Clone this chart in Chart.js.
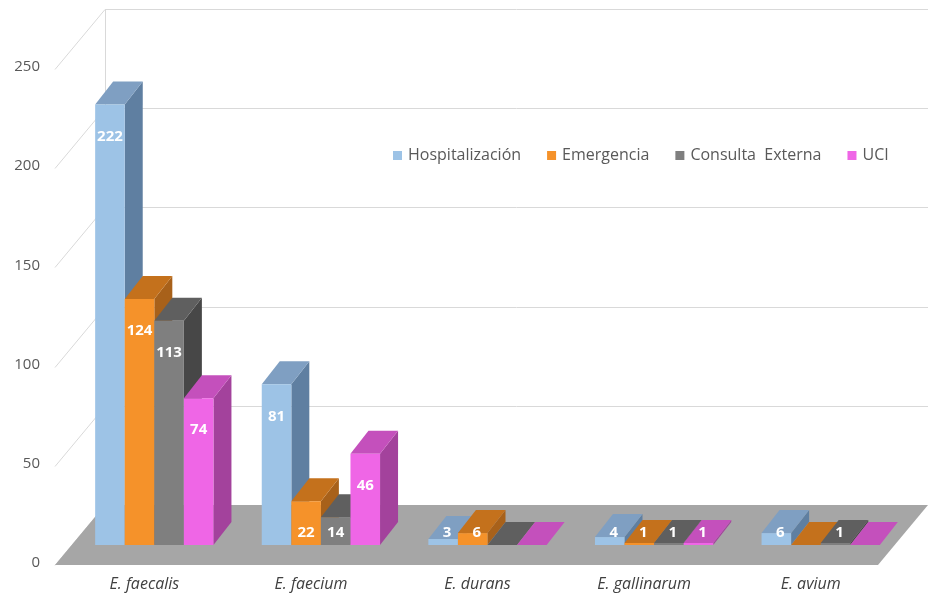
<!DOCTYPE html>
<html>
<head>
<meta charset="utf-8">
<script src="https://cdn.jsdelivr.net/npm/chart.js@4.4.0/dist/chart.umd.min.js"></script>
<style>
  html, body { margin: 0; padding: 0; background: #fff; }
  #wrap { width: 928px; height: 600px; }
</style>
</head>
<body>
<div id="wrap"><canvas id="chart"></canvas></div>
<script>
// data
var species = ['E. faecalis', 'E. faecium', 'E. durans', 'E. gallinarum', 'E. avium'];
var hospitalizacion = [222, 81, 3, 4, 6];
var emergencia = [124, 22, 6, 1, 0];
var consultaExterna = [113, 14, 0, 1, 1];
var uci = [74, 46, 0, 1, 0];
var yTicks = [0, 50, 100, 150, 200, 250];

// front / top / side colours for the 3d bars
var faces = [
    { front: '#9dc3e6', top: '#7f9fc2', side: '#5f7fa1' },
    { front: '#f5922a', top: '#c4711c', side: '#a8611a' },
    { front: '#7f7f7f', top: '#5f5f5f', side: '#474747' },
    { front: '#ef66e6', top: '#c450bc', side: '#a3429c' }
];

var DX = 18, DY = -23;   // bar depth
var font = '"Open Sans", Lato, sans-serif';

function poly(ctx, pts, color) {
    ctx.beginPath();
    ctx.moveTo(pts[0][0], pts[0][1]);
    for (var i = 1; i < pts.length; i++) ctx.lineTo(pts[i][0], pts[i][1]);
    ctx.closePath();
    ctx.fillStyle = color;
    ctx.fill();
}

var threeD = {
    id: 'threeD',
    beforeDatasetsDraw: function (chart) {
        var ctx = chart.ctx;
        var area = chart.chartArea;
        var y = chart.scales.y;
        var base = y.getPixelForValue(0);

        ctx.save();
        // back wall + left wall grid
        ctx.strokeStyle = '#d9d9d9';
        ctx.lineWidth = 1;
        var wallX = area.left + 34;
        var frontX = area.left - 16;
        yTicks.forEach(function (v) {
            var p = Math.round(y.getPixelForValue(v)) + 0.5;
            ctx.beginPath();
            ctx.moveTo(frontX, p + 20);
            ctx.lineTo(wallX, p - 40);
            if (v > 0) ctx.lineTo(chart.width, p - 40);
            ctx.stroke();
        });
        ctx.beginPath();
        ctx.moveTo(wallX + 0.5, y.getPixelForValue(250) - 40);
        ctx.lineTo(wallX + 0.5, base - 40);
        ctx.stroke();

        // floor
        poly(ctx, [[frontX, base + 20], [area.right - 26, base + 20],
                   [chart.width, base - 40], [wallX, base - 40]], '#a6a6a6');

        // bars, painted left to right so side faces hide correctly
        var metas = chart.data.datasets.map(function (d, i) { return chart.getDatasetMeta(i); });
        for (var c = 0; c < species.length; c++) {
            for (var d = 0; d < metas.length; d++) {
                var bar = metas[d].data[c];
                var l = bar.x - bar.width / 2, r = bar.x + bar.width / 2;
                var t = bar.y, b = bar.base;
                var f = faces[d];
                poly(ctx, [[r, t], [r + DX, t + DY], [r + DX, b + DY], [r, b]], f.side);
                poly(ctx, [[l, t], [r, t], [r + DX, t + DY], [l + DX, t + DY]], f.top);
                poly(ctx, [[l, t], [r, t], [r, b], [l, b]], f.front);
            }
        }

        // value labels
        ctx.fillStyle = '#ffffff';
        ctx.font = 'bold 15px ' + font;
        ctx.textAlign = 'center';
        ctx.textBaseline = 'middle';
        for (var c2 = 0; c2 < species.length; c2++) {
            for (var d2 = 0; d2 < metas.length; d2++) {
                var v = chart.data.datasets[d2].data[c2];
                if (!v) continue;
                var br = metas[d2].data[c2];
                var ly = Math.min(br.y + 32, br.base - 12);
                var lx = br.x + (br.base - br.y < 20 ? 4 : 0);
                ctx.fillText(String(v), lx, ly);
            }
        }
        ctx.restore();
        return false;
    },
    afterDraw: function (chart) {
        // legend inside the plot, as in the original
        var ctx = chart.ctx;
        ctx.save();
        ctx.font = '16px ' + font;
        ctx.textBaseline = 'middle';
        ctx.textAlign = 'left';
        var x = 393, ly = 155;
        chart.data.datasets.forEach(function (ds, i) {
            ctx.fillStyle = faces[i].front;
            ctx.fillRect(x, ly - 4, 9, 9);
            ctx.fillStyle = '#595959';
            ctx.fillText(ds.label, x + 15, ly);
            x += 15 + ctx.measureText(ds.label).width + 26;
        });
        ctx.restore();
    }
};

new Chart(document.getElementById('chart'), {
    type: 'bar',
    data: {
        labels: species,
        datasets: [
            { label: 'Hospitalización', data: hospitalizacion, backgroundColor: faces[0].front },
            { label: 'Emergencia', data: emergencia, backgroundColor: faces[1].front },
            { label: 'Consulta  Externa', data: consultaExterna, backgroundColor: faces[2].front },
            { label: 'UCI', data: uci, backgroundColor: faces[3].front }
        ]
    },
    options: {
        responsive: true,
        maintainAspectRatio: false,
        animation: false,
        layout: {
            padding: { top: 49, right: 24, left: 0, bottom: 0 }
        },
        plugins: {
            legend: { display: false },
            tooltip: { enabled: false }
        },
        datasets: {
            bar: { categoryPercentage: 0.71, barPercentage: 1.0 }
        },
        scales: {
            x: {
                grid: { display: false },
                border: { display: false },
                ticks: {
                    color: '#404040',
                    font: { family: font, size: 16, style: 'italic' },
                    padding: 22,
                    labelOffset: -10,
                    maxRotation: 0
                },
                afterFit: function (scale) { scale.height = 55; }
            },
            y: {
                min: 0,
                max: 250,
                grid: { display: false, drawTicks: false },
                border: { display: false },
                ticks: {
                    stepSize: 50,
                    color: '#595959',
                    font: { family: font, size: 15 },
                    padding: 31,
                    labelOffset: 18
                },
                afterFit: function (scale) { scale.width = 71; }
            }
        }
    },
    plugins: [threeD]
});
</script>
</body>
</html>
